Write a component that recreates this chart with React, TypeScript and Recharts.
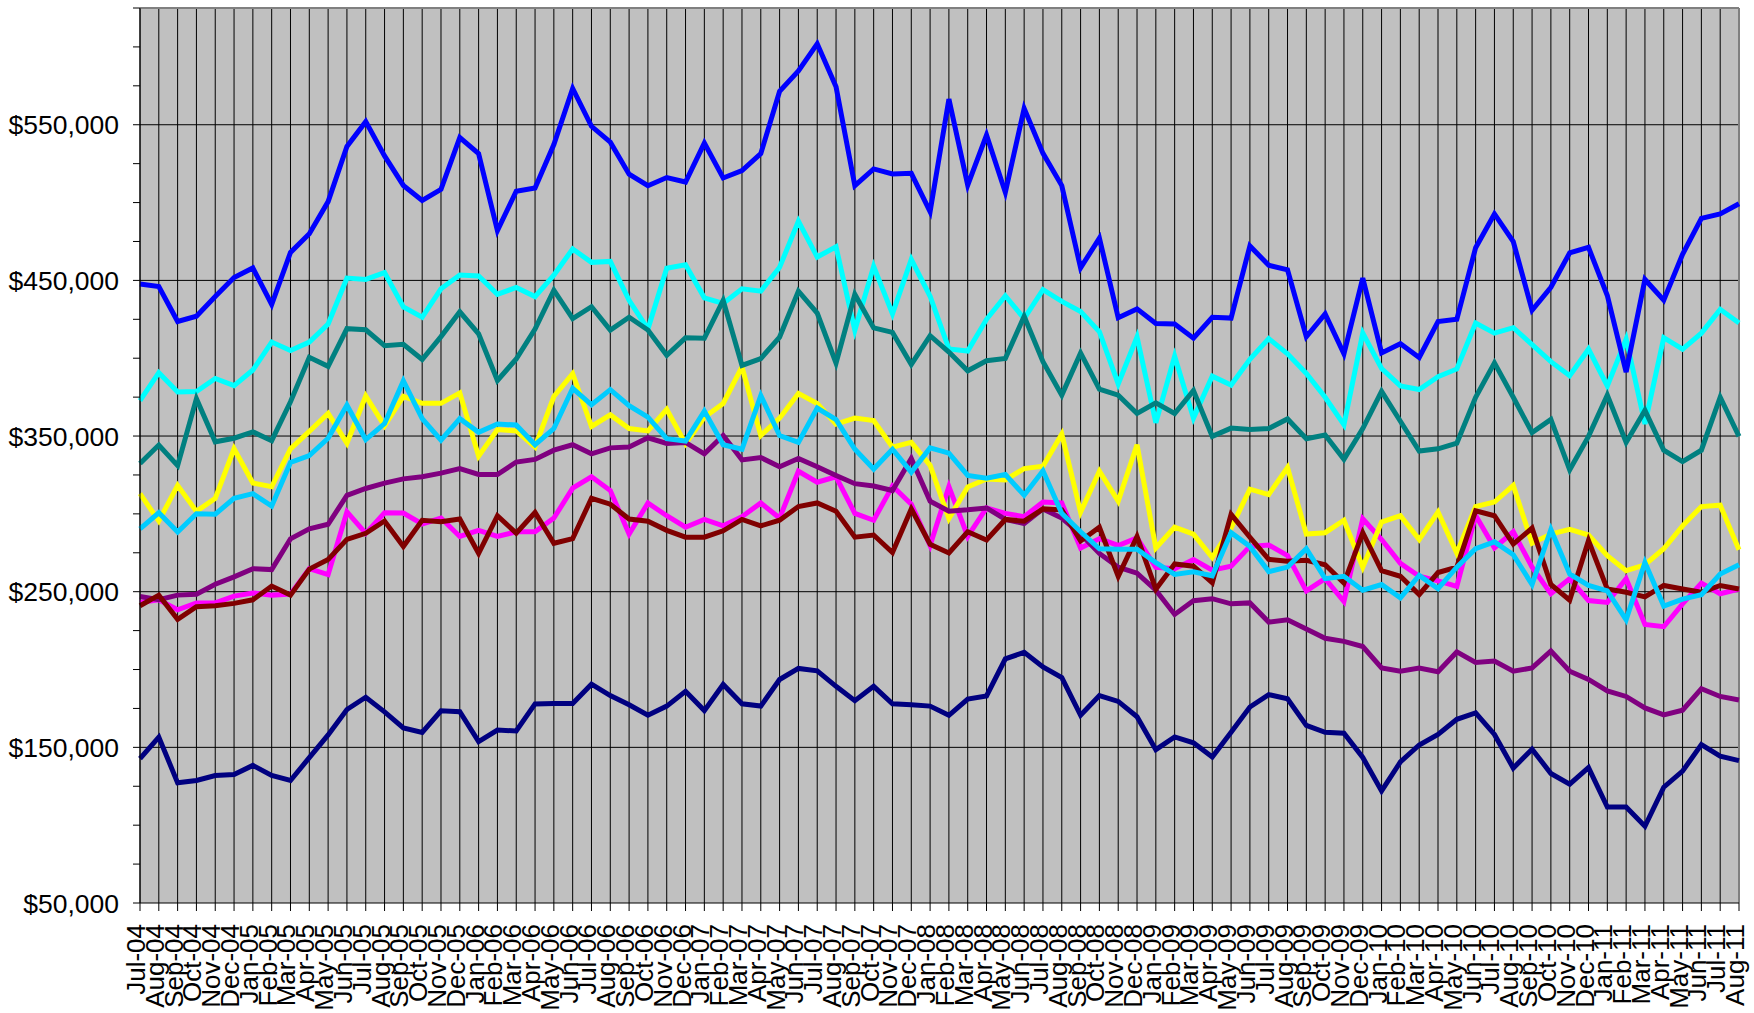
import React from "react";
import {
  LineChart,
  Line,
  XAxis,
  YAxis,
  CartesianGrid,
  ReferenceLine,
} from "recharts";

// months on the x axis
const months = [
  "Jul-04", "Aug-04", "Sep-04", "Oct-04", "Nov-04", "Dec-04",
  "Jan-05", "Feb-05", "Mar-05", "Apr-05", "May-05", "Jun-05", "Jul-05", "Aug-05", "Sep-05", "Oct-05", "Nov-05", "Dec-05",
  "Jan-06", "Feb-06", "Mar-06", "Apr-06", "May-06", "Jun-06", "Jul-06", "Aug-06", "Sep-06", "Oct-06", "Nov-06", "Dec-06",
  "Jan-07", "Feb-07", "Mar-07", "Apr-07", "May-07", "Jun-07", "Jul-07", "Aug-07", "Sep-07", "Oct-07", "Nov-07", "Dec-07",
  "Jan-08", "Feb-08", "Mar-08", "Apr-08", "May-08", "Jun-08", "Jul-08", "Aug-08", "Sep-08", "Oct-08", "Nov-08", "Dec-08",
  "Jan-09", "Feb-09", "Mar-09", "Apr-09", "May-09", "Jun-09", "Jul-09", "Aug-09", "Sep-09", "Oct-09", "Nov-09", "Dec-09",
  "Jan-10", "Feb-10", "Mar-10", "Apr-10", "May-10", "Jun-10", "Jul-10", "Aug-10", "Sep-10", "Oct-10", "Nov-10", "Dec-10",
  "Jan-11", "Feb-11", "Mar-11", "Apr-11", "May-11", "Jun-11", "Jul-11", "Aug-11",
];

// values in thousands of dollars
const navy = [
  142.8, 156.6, 127.2, 128.7, 131.9, 132.5, 138.4, 131.9, 128.7, 143.4, 158, 174.3, 182.2, 172.8, 162.5, 159.6, 173.5, 172.9,
  153.7, 161.1, 160.5, 177.9, 178.2, 178.2, 190.6, 183.3, 177.4, 170.6, 176.5, 186, 173.6, 190.4, 178, 176.5, 193.6, 200.7,
  199.2, 189.2, 180, 189.2, 178, 177.4, 176.5, 170.6, 181, 183, 206.9, 211, 201.6, 194.8, 170.6, 183.3, 179.5, 169.7,
  148.5, 156.7, 152.9, 143.8, 159.7, 175.9, 183.9, 181.2, 164.1, 159.7, 159.1, 143.5, 122, 140.6, 151.5, 158.3, 168, 172.1,
  158.3, 136.7, 148.8, 133.2, 126.4, 137, 111.7, 111.7, 99.3, 124.4, 134.7, 151.8, 144.4, 141.5,
];
const magenta = [
  243, 244.8, 238.4, 242.8, 242.8, 247.2, 249.2, 247.8, 248.4, 264.8, 261, 301.3, 287.5, 300.7, 300.5, 293.5, 297.3, 285.5,
  289.4, 285.5, 288.5, 288.5, 297.3, 316.5, 323.8, 315, 287, 307, 298.8, 291.4, 296.4, 292.3, 298.2, 307, 297.3, 327.4,
  320.3, 323.8, 300.3, 295.9, 317.9, 306.2, 279.7, 317.5, 285.5, 303.8, 300.3, 298.2, 307.6, 307, 278.1, 284.1, 279.7, 284.6,
  265.7, 264.8, 270.7, 263.8, 266.4, 279.1, 280, 273.2, 250.5, 258.4, 243.7, 296.8, 283.5, 268.2, 259.9, 257, 253.4, 299,
  278.2, 288.5, 265.8, 248.7, 258.4, 244.3, 243.1, 258.4, 229, 227.5, 242.2, 255.5, 248.7, 251.7,
];
const yellow = [
  313, 295.4, 318.3, 301.6, 310, 341.8, 319.8, 317.4, 341.8, 353, 364.5, 345.4, 375.7, 356.5, 375.5, 371, 371, 377.7,
  337.1, 354.2, 353.3, 343, 375.4, 390.1, 356.2, 363.6, 354.8, 353.3, 367.1, 345, 362.1, 370.9, 394.5, 350.3, 361.5, 377.4,
  370.9, 357.7, 361.5, 360, 342.9, 345.9, 331.2, 297, 317.3, 322.4, 321.8, 329.1, 330.6, 351.2, 301.1, 327.4, 308.2, 344.4,
  278.1, 291.4, 287, 272, 290.9, 315.9, 312.4, 329.8, 287, 287.9, 295.9, 265.8, 294.7, 298.8, 283.5, 301.2, 274.7, 304.7,
  307.6, 318.3, 281.1, 287, 290, 286.4, 273.2, 263.5, 267.3, 277.6, 292.3, 304.7, 305.6, 277,
];
const cyan = [
  372.7, 390.7, 378.3, 378.6, 387, 382.4, 392.4, 410.4, 405, 410.4, 422, 451.5, 450.6, 455, 433, 426.3, 444.6, 453.4,
  452.8, 441, 445.5, 439.6, 453.4, 470.2, 461.6, 462.2, 437.2, 418.7, 457.8, 460, 438.8, 435.2, 444.6, 443.1, 458.4, 488,
  465, 471.6, 418, 459, 428.5, 463.5, 439.8, 406, 404.6, 425, 440, 425.5, 444, 436.5, 430, 417, 383.5, 413.6,
  358.5, 401.3, 361.5, 388.5, 382.8, 399.3, 412.6, 402.8, 390.2, 374.9, 357.2, 416.1, 393.4, 382.2, 379.9, 388.1, 393.1, 422.6,
  416.1, 419.6, 408.7, 397.8, 388.7, 405.8, 382.2, 412.3, 357.8, 413.2, 405.8, 416.1, 431.4, 422.6,
];
const purple = [
  246.9, 244.8, 247.8, 248.4, 254.8, 259.5, 264.8, 264.2, 284, 290.4, 293.3, 311.9, 316.3, 319.8, 322.5, 323.8, 326.2, 329.1,
  325.3, 325.3, 333.3, 335, 340.9, 344.4, 338.6, 342.4, 343, 348.9, 345.3, 345.9, 338.6, 350.3, 334.7, 336.2, 330.3, 335.6,
  330.3, 324.7, 319.4, 317.9, 315, 335.6, 308.2, 301.7, 302.6, 303.8, 296.4, 293.8, 303.2, 297.3, 287, 274.6, 265.7, 261.9,
  251, 235.4, 244.2, 245.5, 242.2, 242.8, 230.5, 231.9, 226, 220.1, 218.1, 214.8, 201, 198.9, 201, 198.6, 211.3, 204.5,
  205.4, 198.9, 201, 211.9, 198.9, 193.6, 186.2, 182.7, 175.3, 170.9, 173.9, 187.7, 182.7, 180.4,
];
const maroon = [
  241, 247.8, 232.2, 240.4, 241, 242.5, 244.8, 253.6, 247.8, 264.5, 270.7, 283.6, 287.5, 295.4, 279, 295.9, 295, 296.7,
  274.6, 298.8, 287.6, 300.9, 281.1, 284.1, 310, 306.2, 296.7, 295.3, 289.4, 285, 285, 289.1, 296.4, 292.3, 295.9, 304.7,
  307, 301.7, 285, 286.4, 275.2, 303.2, 280.5, 274.9, 288.5, 283.2, 296.4, 295.3, 303.2, 302.6, 282.6, 291.4, 259.9, 285.5,
  251.6, 267.8, 266.4, 255.8, 299.7, 285, 270.8, 269.6, 270.2, 267.3, 255.5, 287.9, 263.5, 259.9, 248.1, 262.3, 265.8, 302,
  298.8, 280.6, 290.9, 254.6, 244.6, 282.9, 251.7, 249.6, 246.7, 254, 251.7, 249.6, 254, 251.7,
];
const teal = [
  332.4, 344.2, 331, 374, 346.3, 348.6, 352.7, 347, 372, 400.6, 394.8, 419, 418.3, 408, 409, 399.2, 413.9, 429.8,
  415.7, 385.7, 399.5, 418.7, 443.7, 425.4, 433.1, 418.1, 426.3, 418.1, 401.9, 413.1, 412.8, 437.2, 395.4, 399.8, 413.6, 443.1,
  429, 396.9, 441, 419.5, 416.6, 396, 414.5, 404, 391.9, 398.4, 399.8, 426.9, 397.8, 376.3, 403.4, 380.1, 376.3, 364.5,
  371.3, 364.5, 379.2, 349.8, 355.1, 354.2, 354.8, 361, 348.3, 350.7, 335.1, 354.8, 378.7, 359.5, 340.4, 341.8, 345.4, 374.9,
  397, 374.9, 352.2, 360.7, 328.3, 349.8, 376.3, 345.9, 366.5, 340.9, 333.6, 340.9, 374.9, 349.8,
];
const blue = [
  447.7, 446, 423.6, 427, 439.7, 451.8, 458, 434.5, 468, 480, 500.6, 536, 552, 530, 511, 501.4, 508.5, 541.8,
  531.4, 482, 507.3, 509.4, 537.3, 573.3, 549, 538.8, 518.2, 510.8, 516.1, 513.2, 538.2, 515.8, 520.5, 531.4, 571.5, 584.6,
  602, 574.4, 510.9, 521.6, 518.4, 518.8, 494.2, 566.5, 511.2, 543.4, 506.5, 560.5, 531.6, 510.9, 458, 477.2, 426, 431.7,
  422.3, 422, 412.9, 426.3, 425.8, 472.1, 459.7, 456.8, 413.8, 428.5, 402.8, 451.5, 403.4, 409.3, 400.5, 423.5, 425, 471,
  492.7, 475, 430.8, 445.6, 467.7, 471.2, 440.3, 391.1, 450.6, 437.3, 466.8, 489.8, 492.7, 499.2,
];
const skyblue = [
  290.4, 300.7, 288.3, 300.1, 299.8, 310, 313, 305, 333, 337.4, 348.6, 369.8, 347.7, 358, 385.5, 361.2, 347.4, 361.2,
  352.4, 357.7, 357.1, 344.4, 354.8, 380.7, 370.1, 379.8, 369.5, 362.1, 348.3, 346.8, 366, 344.4, 341.5, 376, 350.3, 345.9,
  368, 360.6, 341.5, 328.8, 341.5, 326.8, 342.4, 339, 324.7, 322.9, 325.3, 312, 327.7, 300.3, 288.5, 277.6, 277.3, 277.3,
  268.7, 261.1, 262.8, 260.2, 287.9, 279.1, 262.9, 265.8, 277.6, 258.4, 259.9, 251, 254.6, 246.1, 260.5, 251.9, 265.8, 277.6,
  282, 273.8, 254.6, 290, 261.4, 254, 250.5, 231.9, 268.8, 240.8, 245.2, 248.1, 261.4, 267.3,
];

// y axis: minor ticks every 25k, labels/gridlines every 100k
const yTicks = [50, 75, 100, 125, 150, 175, 200, 225, 250, 275, 300, 325, 350, 375, 400, 425, 450, 475, 500, 525, 550, 575, 600, 625];
const yLabels = [50, 150, 250, 350, 450, 550];
const yGrid = [150, 250, 350, 450, 550];

const series = [
  { key: "navy", values: navy, color: "#000080" },
  { key: "magenta", values: magenta, color: "#FF00FF" },
  { key: "yellow", values: yellow, color: "#FFFF00" },
  { key: "cyan", values: cyan, color: "#00FFFF" },
  { key: "purple", values: purple, color: "#800080" },
  { key: "maroon", values: maroon, color: "#800000" },
  { key: "teal", values: teal, color: "#008080" },
  { key: "blue", values: blue, color: "#0000FF" },
  { key: "skyblue", values: skyblue, color: "#00CCFF" },
];

const data = months.map((m, i) => {
  const row: any = { month: m };
  series.forEach((s) => (row[s.key] = s.values[i]));
  return row;
});

const FONT = "'Liberation Sans', Arial, sans-serif";

function YTick(props: any) {
  const { y, payload } = props;
  if (!yLabels.includes(payload.value)) return null;
  return (
    <text x={119} y={y} dy="0.36em" textAnchor="end" fontSize={26.5} fontFamily={FONT} fill="#000">
      {"$" + (payload.value * 1000).toLocaleString("en-US")}
    </text>
  );
}

function XTick(props: any) {
  const { x, payload } = props;
  const top = 924;
  return (
    <text
      x={x}
      y={top}
      dy={5}
      textAnchor="end"
      transform={`rotate(-90, ${x}, ${top})`}
      fontSize={26}
      fontFamily={FONT}
      fill="#000"
    >
      {payload.value}
    </text>
  );
}

export default function App() {
  return (
    <div>
      <style>{"body{margin:0;background:#fff}"}</style>
      <LineChart
        width={1754}
        height={1013}
        data={data}
        margin={{ top: 8, right: 15, left: 0, bottom: 0 }}
      >
        <CartesianGrid
          fill="#C0C0C0"
          horizontal={false}
          vertical={true}
          stroke="#000"
          strokeOpacity={1}
        />
        {yGrid.map((v) => (
          <ReferenceLine key={v} y={v} stroke="#000" strokeWidth={1} />
        ))}
        <XAxis
          dataKey="month"
          interval={0}
          height={110}
          tickSize={8}
          tick={<XTick />}
          stroke="#000"
        />
        <YAxis
          type="number"
          domain={[50, 625]}
          ticks={yTicks}
          width={140}
          tickSize={7}
          tick={<YTick />}
          stroke="#000"
          allowDataOverflow
        />
        <ReferenceLine y={625} stroke="#808080" strokeWidth={2} />
        <ReferenceLine x="Aug-11" stroke="#808080" strokeWidth={2} />
        {series.map((s) => (
          <Line
            key={s.key}
            dataKey={s.key}
            stroke={s.color}
            strokeWidth={5}
            dot={false}
            activeDot={false}
            isAnimationActive={false}
          />
        ))}
      </LineChart>
    </div>
  );
}
